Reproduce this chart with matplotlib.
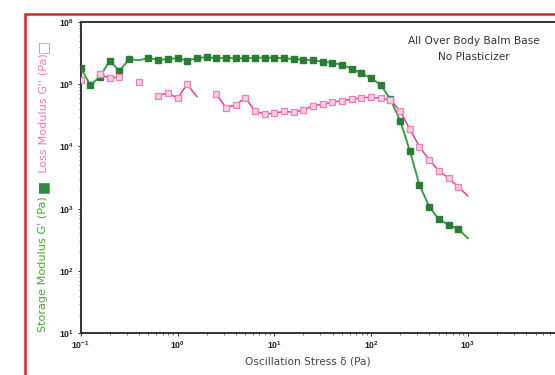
import numpy as np
import matplotlib
matplotlib.use("Agg")
import matplotlib.pyplot as plt
from matplotlib.patches import Rectangle

# ---- data ----
stress = [0.1, 0.1259, 0.1585, 0.1995, 0.2512, 0.3162, 0.3981, 0.5012, 0.631, 0.7943,
          1.0, 1.259, 1.585, 1.995, 2.512, 3.162, 3.981, 5.012, 6.31, 7.943,
          10.0, 12.59, 15.85, 19.95, 25.12, 31.62, 39.81, 50.12, 63.1, 79.43,
          100.0, 125.9, 158.5, 199.5, 251.2, 316.2, 398.1, 501.2, 631.0, 794.3, 1000.0]
g_storage = [179500, 96800, 131500, 237700, 162200, 252900, 241000, 262400, 246600, 250000,
             262400, 238200, 259400, 272300, 259400, 265500, 259400, 259400, 265500, 265500,
             265500, 259400, 252900, 246600, 241000, 229100, 220800, 202800, 177800, 148900,
             123900, 96800, 57000, 25900, 8530, 2400, 1080, 676, 547, 472, 335]
g_loss = [116400, np.nan, 143600, 123900, 131500, np.nan, 106900, np.nan, 65200, 72800,
          59200, 99300, 63100, np.nan, 69300, 41800, 46200, 60500, 37000, 33100,
          34000, 36600, 35200, 38400, 44500, 48000, 51100, 54200, 57000, 60500,
          61400, 59200, 55600, 37000, 19000, 9890, 6050, 4070, 3080, 2250, 1600]
x_ticks = [0.1, 1, 10, 100, 1000]
x_ticklabels = ["$10^{-1}$", "$10^{0}$", "$10^{1}$", "$10^{2}$", "$10^{3}$"]
y_ticks = [10, 100, 1000, 1e4, 1e5, 1e6]
y_ticklabels = ["$10^{1}$", "$10^{2}$", "$10^{3}$", "$10^{4}$", "$10^{5}$", "$10^{6}$"]
title_lines = ["All Over Body Balm Base", "No Plasticizer"]
xlabel = "Oscillation Stress δ (Pa)"
ylabel_storage = "Storage Modulus G' (Pa)"
ylabel_loss = "Loss Modulus G'' (Pa)"

# ---- style ----
plt.rcParams['mathtext.fontset'] = 'custom'
plt.rcParams['mathtext.rm'] = 'Liberation Sans:bold'
plt.rcParams['mathtext.it'] = 'Liberation Sans:bold'
plt.rcParams['mathtext.bf'] = 'Liberation Sans:bold'

W, H = 555, 375
fig = plt.figure(figsize=(W / 100, H / 100), dpi=100)

# red frame
fig.patches.append(Rectangle((25 / W, -0.1), 1.2, (375 - 13.5) / H + 0.1,
                             transform=fig.transFigure, fill=False,
                             edgecolor='#d8252b', linewidth=1.8))

ax_left, ax_bottom = 80.7 / W, (H - 333.3) / H
ax_h = (333.3 - 21.8) / H
ax_w = 5 * 96.8 / W
ax = fig.add_axes([ax_left, ax_bottom, ax_w, ax_h])
ax.set_xscale('log')
ax.set_yscale('log')
ax.set_xlim(0.1, 1e4)
ax.set_ylim(10, 1e6)

green_line = '#3c9e45'
green_mark = '#2a7d34'
pink_line = '#ec3b95'
pink_edge = '#f27db8'
pink_face = '#f9cfe3'

g_mark_idx = [i for i in range(len(stress)) if i not in (6, 40)]
l_mark_idx = [i for i in range(len(stress)) if i not in (12, 40)]

ax.plot(stress, g_storage, color=green_line, lw=1.4, marker='s', ms=3.9,
        mfc=green_mark, mec=green_mark, markevery=g_mark_idx, zorder=3)
ax.plot(stress, g_loss, color=pink_line, lw=1.1, marker='s', ms=3.8,
        mfc=pink_face, mec=pink_edge, mew=0.9, markevery=l_mark_idx, zorder=4)

ax.set_xticks(x_ticks)
ax.set_xticklabels(x_ticklabels)
ax.set_yticks(y_ticks)
ax.set_yticklabels(y_ticklabels)
for sp in ['left', 'bottom', 'top']:
    ax.spines[sp].set_color('#333333')
    ax.spines[sp].set_linewidth(1.4)
ax.spines['right'].set_visible(False)
ax.tick_params(which='major', direction='out', length=2.5, width=0.8, colors='#333333',
               labelsize=6.3, labelcolor='#222222', pad=2)
ax.tick_params(which='minor', direction='out', length=1.5, width=0.6, colors='#555555')

for i, line in enumerate(title_lines):
    ax.text(474 / W, (H - 41 - i * 15.5) / H, line, transform=fig.transFigure,
            ha='center', va='center', fontsize=7.6, color='#333333')

fig.text(307.5 / W, (H - 362) / H, xlabel, ha='center', va='center',
         fontsize=7.6, color='#444444')

# vertical y-label built from pieces
fig.canvas.draw()
renderer = fig.canvas.get_renderer()
xlab = 43 / W
pieces = [(ylabel_storage + " ", '#4aa83a', 8.1),
          ("■", '#2f8a3b', 10),
          ("  " + ylabel_loss, '#f07ab4', 8.1),
          ("□", '#f07ab4', 10)]
ypos = (H - 332) / H
for txt, col, fs in pieces:
    t = fig.text(xlab, ypos, txt, rotation=90, ha='center', va='bottom',
                 fontsize=fs, color=col)
    bb = t.get_window_extent(renderer)
    ypos = bb.y1 / H

fig.savefig('out.png', dpi=100)
